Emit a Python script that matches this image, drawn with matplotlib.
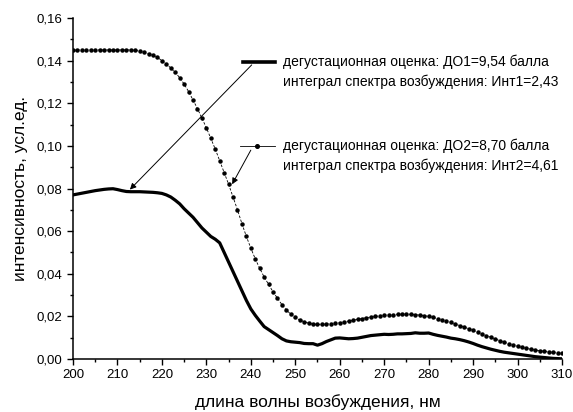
import matplotlib
matplotlib.use("Agg")
import matplotlib.pyplot as plt
from matplotlib.ticker import MultipleLocator, FuncFormatter

plt.rcParams['font.family'] = ['Liberation Sans', 'DejaVu Sans']

wavelength = list(range(200, 311))

do2_series = [
    0.145, 0.145, 0.145, 0.145, 0.145, 0.145, 0.145, 0.145, 0.145, 0.145,
    0.145, 0.145, 0.145, 0.145, 0.1448, 0.1445, 0.144, 0.1433, 0.1425, 0.1415,
    0.140, 0.1385, 0.1365, 0.1345, 0.132, 0.129, 0.1255, 0.1215, 0.1175, 0.113,
    0.1085, 0.1035, 0.0985, 0.093, 0.0875, 0.082, 0.076, 0.070, 0.0635, 0.0575,
    0.052, 0.047, 0.0425, 0.0385, 0.035, 0.0315, 0.0285, 0.0255, 0.023, 0.021,
    0.0195, 0.0183, 0.0175, 0.0168, 0.0164, 0.0162, 0.0162, 0.0164, 0.0166, 0.0168,
    0.0171, 0.0174, 0.0178, 0.0182, 0.0186, 0.019, 0.0194, 0.0197, 0.020, 0.0202,
    0.0205, 0.0207, 0.0208, 0.0209, 0.021, 0.021, 0.021, 0.0208, 0.0206, 0.0203,
    0.020, 0.0195, 0.019, 0.0185, 0.0179, 0.0172, 0.0164, 0.0157, 0.015, 0.0142,
    0.0134, 0.0125, 0.0117, 0.011, 0.0102, 0.0094, 0.0086, 0.0079, 0.0072, 0.0066,
    0.006, 0.0055, 0.005, 0.0046, 0.0042, 0.0039, 0.0036, 0.0033, 0.0031, 0.0028,
    0.0026,
]

do1_series = [
    0.077, 0.0774, 0.0778, 0.0782, 0.0786, 0.079, 0.0793, 0.0796, 0.0798, 0.0799,
    0.0795, 0.079, 0.0786, 0.0785, 0.0785, 0.0785, 0.0784, 0.0783, 0.0782, 0.078,
    0.0777, 0.077, 0.076, 0.0745, 0.0728, 0.0705, 0.0685, 0.0665, 0.064, 0.0615,
    0.0595, 0.0575, 0.0562, 0.0545, 0.050, 0.0455, 0.041, 0.0365, 0.032, 0.0275,
    0.0235, 0.0205, 0.0178, 0.0152, 0.0138, 0.0124, 0.011, 0.0095, 0.0085, 0.0081,
    0.0079, 0.0077, 0.0073, 0.0072, 0.0072, 0.0065, 0.0072, 0.0082, 0.009, 0.0098,
    0.0099, 0.0097, 0.0095, 0.0096, 0.0098, 0.0102, 0.0106, 0.011, 0.0112, 0.0114,
    0.0116, 0.0115, 0.0116, 0.0118, 0.0118, 0.0119, 0.012, 0.0123, 0.0121, 0.0121,
    0.0122, 0.0116, 0.0111, 0.0107, 0.0103, 0.0098, 0.0095, 0.0091, 0.0086, 0.008,
    0.0073, 0.0065, 0.0058, 0.0052, 0.0046, 0.0041, 0.0036, 0.0032, 0.0029, 0.0026,
    0.0023, 0.002, 0.0017, 0.0014, 0.0011, 0.0009, 0.0007, 0.0005, 0.0003, 0.0002,
    0.0001,
]

legend1 = ["дегустационная оценка: ДО1=9,54 балла",
           "интеграл спектра возбуждения: Инт1=2,43"]
legend2 = ["дегустационная оценка: ДО2=8,70 балла",
           "интеграл спектра возбуждения: Инт2=4,61"]
xlabel = "длина волны возбуждения, нм"
ylabel = "интенсивность, усл.ед."

fig = plt.figure(figsize=(5.73, 4.12), dpi=100)
ax = fig.add_axes([0.1274, 0.1286, 0.8534, 0.8277])

ax.plot(wavelength, do1_series, color='black', lw=2.3, solid_joinstyle='round')
ax.plot(wavelength, do2_series, color='black', lw=0.6, ls=(0, (3, 2)),
        marker='o', ms=2.2, mec='black', mfc='black')

ax.set_xlim(200, 310)
ax.set_ylim(0, 0.16)
ax.xaxis.set_major_locator(MultipleLocator(10))
ax.xaxis.set_minor_locator(MultipleLocator(5))
ax.yaxis.set_major_locator(MultipleLocator(0.02))
ax.yaxis.set_minor_locator(MultipleLocator(0.01))
ax.yaxis.set_major_formatter(FuncFormatter(lambda v, p: f"{v:.2f}".replace('.', ',')))
ax.tick_params(which='major', direction='out', length=4, width=1, labelsize=9.5)
ax.tick_params(which='minor', direction='out', length=2.5, width=1)
for s in ['top', 'right']:
    ax.spines[s].set_visible(False)
for s in ['left', 'bottom']:
    ax.spines[s].set_linewidth(1.1)

ax.set_xlabel(xlabel, fontsize=12.5, labelpad=9)
ax.set_ylabel(ylabel, fontsize=12.5, labelpad=6)

# legend-like entries
tr = ax.transAxes
fs = 10.0
ax.plot([0.348, 0.413], [0.871, 0.871], transform=tr, color='black', lw=2.6, clip_on=False)
ax.text(0.429, 0.871, legend1[0], transform=tr, fontsize=fs, va='center', ha='left')
ax.text(0.429, 0.813, legend1[1], transform=tr, fontsize=fs, va='center', ha='left')
ax.plot([0.342, 0.413], [0.625, 0.625], transform=tr, color='black', lw=0.6, clip_on=False)
ax.plot([0.377], [0.625], transform=tr, marker='o', ms=2.6, color='black', clip_on=False)
ax.text(0.429, 0.625, legend2[0], transform=tr, fontsize=fs, va='center', ha='left')
ax.text(0.429, 0.567, legend2[1], transform=tr, fontsize=fs, va='center', ha='left')

ax.annotate('', xy=(212.8, 0.0795), xytext=(240.2, 0.138),
            arrowprops=dict(arrowstyle='-|>', color='black', lw=0.7, mutation_scale=9,
                            shrinkA=0, shrinkB=0))
ax.annotate('', xy=(235.8, 0.082), xytext=(240.0, 0.098),
            arrowprops=dict(arrowstyle='-|>', color='black', lw=0.7, mutation_scale=9,
                            shrinkA=0, shrinkB=0))

fig.savefig('out.png', dpi=100)
